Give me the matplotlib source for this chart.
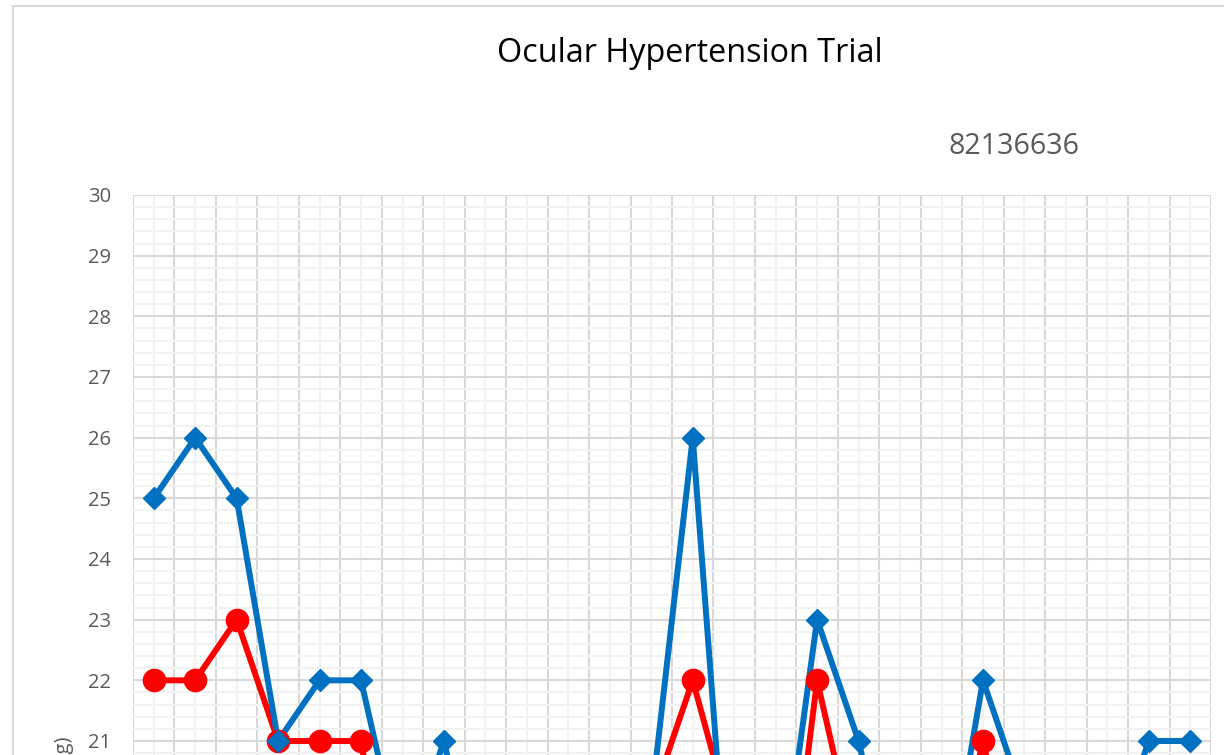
import matplotlib

matplotlib.use("Agg")
import matplotlib.pyplot as plt
from matplotlib.patches import Rectangle
from matplotlib.ticker import FixedLocator, MultipleLocator

# visit index along the x axis (its labels sit below the visible canvas)
visits = [str(i + 1) for i in range(26)]

# values; points below 21 are estimated from the line slopes
iop_blue = [25, 26, 25, 21, 22, 22, 19, 21, 18, 18, 19, 18, 20,
            26, 17, 18, 23, 21, 18, 18, 22, 20, 18, 19, 21, 21]
iop_red = [22, 22, 23, 21, 21, 21, 17, 18, 17, 17, 18, 17, 20,
           22, 19.5, 16.5, 22, 19, 18, 18, 21, 18, 17, 17, 18, 18]

title = "Ocular Hypertension Trial"
subtitle = "82136636"
ylabel = "IOP (mmHg)"

BLUE = "#0070C0"
RED = "#FF0000"
TEXT = "#595959"
W, H = 1224, 755

plt.rcParams["font.family"] = ["Open Sans", "DejaVu Sans"]

fig = plt.figure(figsize=(W / 100, H / 100), dpi=100)

# chart border (runs past the right and bottom of the canvas)
fig.patches.append(Rectangle((13 / W, -0.5), 1.5, 1 - 6 / H + 0.5,
                             transform=fig.transFigure, fill=False,
                             edgecolor="#d9d9d9", linewidth=1.5))

# plot area: top at 195px, 30 -> 21 spans 546px; y range 10..30
px_per_unit = 546 / 9
ymin, ymax = 10, 30
left, right, top = 133, 1211, 195
height = (ymax - ymin) * px_per_unit
ax = fig.add_axes([left / W, 1 - (top + height) / H, (right - left) / W, height / H])

x = list(range(len(visits)))
ax.plot(x, iop_red, color=RED, linewidth=4.3, zorder=3, solid_joinstyle="round")
ax.plot(x, iop_blue, color=BLUE, linewidth=4.3, zorder=4, solid_joinstyle="round")
ax.plot(x, iop_red, linestyle="none", marker="o", markersize=16,
        color=RED, zorder=5)
ax.plot(x, iop_blue, linestyle="none", marker="D", markersize=11.5,
        color=BLUE, zorder=6)

ax.set_xlim(-0.5, len(visits) - 0.5)
ax.set_ylim(ymin, ymax)

# major x grid on category boundaries, minor (with labels) on category centres
ax.xaxis.set_major_locator(FixedLocator([i - 0.5 for i in range(len(visits) + 1)]))
ax.set_xticklabels([])
ax.set_xticks(x, visits, minor=True)
ax.yaxis.set_major_locator(MultipleLocator(1))
ax.yaxis.set_minor_locator(MultipleLocator(0.2))

ax.grid(which="major", color="#d9d9d9", linewidth=1.5)
ax.grid(which="minor", color="#f2f2f2", linewidth=1.5)
ax.set_axisbelow(True)
for sp in ax.spines.values():
    sp.set_visible(False)
ax.tick_params(which="both", length=0)
ax.tick_params(axis="y", labelsize=14.5, labelcolor=TEXT, pad=16)
ax.tick_params(axis="x", which="minor", labelsize=14.5, labelcolor=TEXT)

fig.text(690 / W, 1 - 53 / H, title, ha="center", va="center",
         fontsize=23.3, color="black")
fig.text(1014 / W, 1 - 146 / H, subtitle, ha="center", va="center",
         fontsize=20.6, color=TEXT)
fig.text(64 / W, 1 - 737 / H, ylabel, rotation=90, ha="center", va="top",
         fontsize=14.5, color=TEXT)

fig.savefig("out.png", dpi=100)
